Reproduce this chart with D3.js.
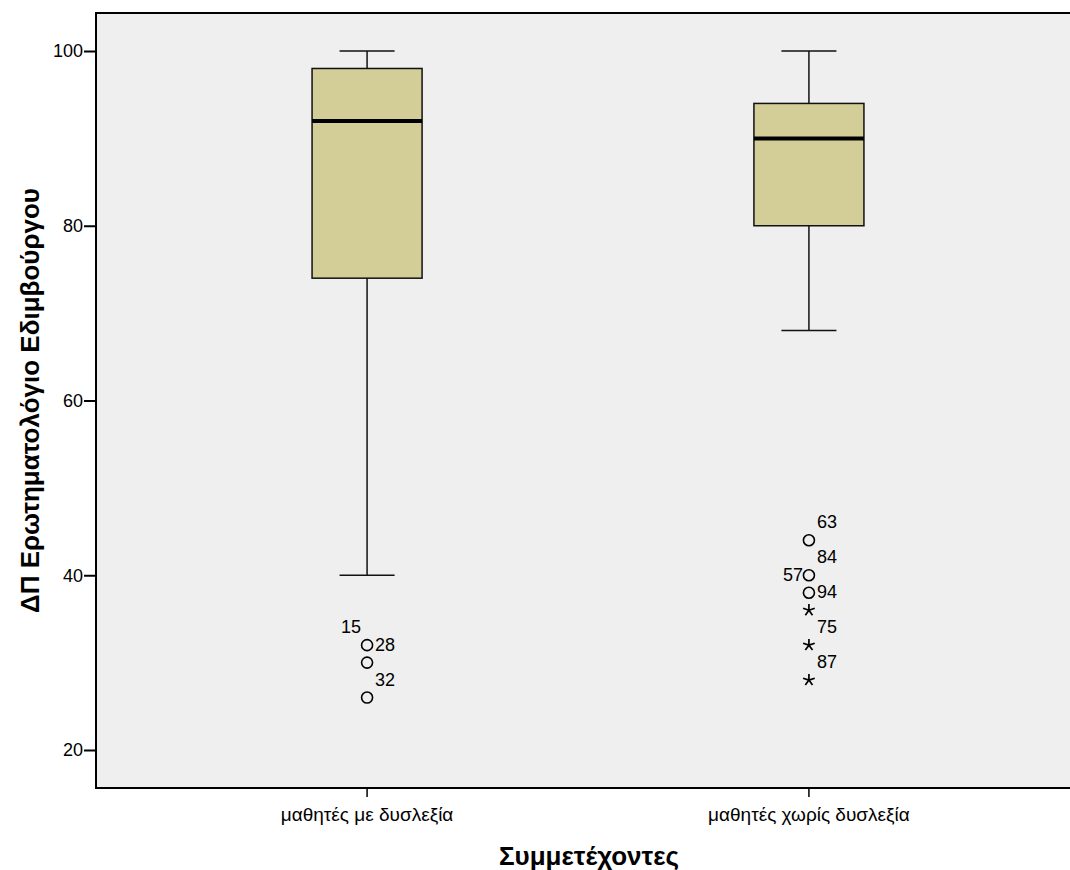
<!DOCTYPE html>
<html>
<head>
<meta charset="utf-8">
<script src="https://cdn.jsdelivr.net/npm/d3@7"></script>
<style>
  body { margin: 0; background: #fff; }
  svg { display: block; font-family: "Liberation Sans", Arial, sans-serif; }
</style>
</head>
<body>
<svg id="chart" width="1070" height="870"></svg>
<script>
// groups on the x axis
var categories = ["μαθητές με δυσλεξία", "μαθητές χωρίς δυσλεξία"];
// five number summaries (whisker low, Q1, median, Q3, whisker high)
var whiskerLow = [40, 68];
var q1 = [74, 80];
var median = [92, 90];
var q3 = [98, 94];
var whiskerHigh = [100, 100];

// outliers: group index, value, kind (o = circle, * = extreme)
var outlierGroup = [0, 0, 0, 1, 1, 1, 1, 1, 1];
var outlierValue = [32, 30, 26, 44, 40, 38, 36, 32, 28];
var outlierKind = ["o", "o", "o", "o", "o", "o", "*", "*", "*"];

// case labels: group, value of the point they belong to, id
var labelGroup = [0, 0, 0, 1, 1, 1, 1, 1, 1];
var labelValue = [32, 30, 26, 44, 40, 40, 36, 32, 28];
var labelText = ["15", "28", "32", "63", "84", "57", "94", "75", "87"];
var labelSide = ["nw", "ne", "ne", "ne", "ne", "w", "ne", "ne", "ne"];

var yTicks = [20, 40, 60, 80, 100];

var svg = d3.select("#chart");
var margin = {left: 96, top: 13, right: 0, bottom: 82};
var width = 1070, height = 870;

var y = d3.scaleLinear()
    .domain([15.65, 104.35])
    .range([height - margin.bottom, margin.top]);

// band range runs a bit past the visible frame (SPSS clips the right edge)
var x = d3.scaleBand()
    .domain(categories)
    .range([margin.left, 1080])
    .paddingInner(0.751)
    .paddingOuter(0.489);

// plot background
svg.append("rect")
    .attr("x", margin.left).attr("y", margin.top)
    .attr("width", width - margin.left)
    .attr("height", height - margin.bottom - margin.top)
    .attr("fill", "#efefef");

svg.append("path")
    .attr("d", "M" + width + "," + margin.top + "H" + margin.left + "V" + (height - margin.bottom) + "H" + width)
    .attr("fill", "none").attr("stroke", "#000").attr("stroke-width", 2);

// y axis
var yAxis = d3.axisLeft(y).tickValues(yTicks).tickSize(12).tickSizeOuter(0);
var gy = svg.append("g").attr("transform", "translate(" + margin.left + ",0)").call(yAxis);
gy.select(".domain").remove();
gy.selectAll(".tick line").attr("stroke-width", 2);
gy.selectAll(".tick text").attr("font-size", 18).attr("fill", "#000")
    .attr("font-family", "Liberation Sans, Arial, sans-serif").attr("x", -13);

// x axis
var xAxis = d3.axisBottom(x).tickSize(9).tickSizeOuter(0);
var gx = svg.append("g").attr("transform", "translate(0," + (height - margin.bottom) + ")").call(xAxis);
gx.select(".domain").remove();
gx.selectAll(".tick line").attr("stroke-width", 1.5);
gx.selectAll(".tick text").attr("font-size", 19).attr("fill", "#000")
    .attr("font-family", "Liberation Sans, Arial, sans-serif").attr("y", 20);

// boxes
var bw = x.bandwidth();
var boxes = svg.append("g").selectAll("g").data(categories).join("g")
    .attr("transform", function(d) { return "translate(" + x(d) + ",0)"; });

boxes.append("line")
    .attr("x1", bw / 2).attr("x2", bw / 2)
    .attr("y1", function(d, i) { return y(whiskerLow[i]); })
    .attr("y2", function(d, i) { return y(whiskerHigh[i]); })
    .attr("stroke", "#111").attr("stroke-width", 1.5);

boxes.selectAll(".cap").data(function(d, i) { return [whiskerLow[i], whiskerHigh[i]]; }).join("line")
    .attr("class", "cap")
    .attr("x1", bw / 4).attr("x2", bw * 3 / 4)
    .attr("y1", function(v) { return y(v); }).attr("y2", function(v) { return y(v); })
    .attr("stroke", "#111").attr("stroke-width", 1.5);

boxes.append("rect")
    .attr("x", 0).attr("width", bw)
    .attr("y", function(d, i) { return y(q3[i]); })
    .attr("height", function(d, i) { return y(q1[i]) - y(q3[i]); })
    .attr("fill", "#d3ce98").attr("stroke", "#111").attr("stroke-width", 1.5);

boxes.append("line")
    .attr("x1", 0).attr("x2", bw)
    .attr("y1", function(d, i) { return y(median[i]); })
    .attr("y2", function(d, i) { return y(median[i]); })
    .attr("stroke", "#000").attr("stroke-width", 4);

// outliers
var cx = function(g) { return x(categories[g]) + bw / 2; };
var pts = d3.range(outlierValue.length);
svg.append("g").selectAll("circle").data(pts.filter(function(i) { return outlierKind[i] === "o"; })).join("circle")
    .attr("cx", function(i) { return cx(outlierGroup[i]); })
    .attr("cy", function(i) { return y(outlierValue[i]); })
    .attr("r", 5.5).attr("fill", "none").attr("stroke", "#000").attr("stroke-width", 1.6);

// five-armed asterisk for extreme values
var asterisk = {
  draw: function(ctx, size) {
    var r = Math.sqrt(size) / 2;
    for (var k = 0; k < 5; k++) {
      var a = Math.PI / 2 + k * 2 * Math.PI / 5;
      ctx.moveTo(0, 0); ctx.lineTo(r * Math.cos(a), -r * Math.sin(a));
    }
  }
};
svg.append("g").selectAll("path").data(pts.filter(function(i) { return outlierKind[i] === "*"; })).join("path")
    .attr("transform", function(i) { return "translate(" + cx(outlierGroup[i]) + "," + y(outlierValue[i]) + ")"; })
    .attr("d", d3.symbol().type(asterisk).size(150))
    .attr("fill", "none").attr("stroke", "#000").attr("stroke-width", 1.7);

// case labels
var off = {ne: [8, -12, "start"], nw: [-6, -12, "end"], w: [-6, 6, "end"]};
svg.append("g").selectAll("text").data(d3.range(labelText.length)).join("text")
    .attr("x", function(i) { return cx(labelGroup[i]) + off[labelSide[i]][0]; })
    .attr("y", function(i) { return y(labelValue[i]) + off[labelSide[i]][1]; })
    .attr("text-anchor", function(i) { return off[labelSide[i]][2]; })
    .attr("font-size", 18)
    .text(function(i) { return labelText[i]; });

// axis titles
svg.append("text")
    .attr("x", 589).attr("y", 865)
    .attr("text-anchor", "middle").attr("font-size", 26).attr("font-weight", "bold")
    .text("Συμμετέχοντες");

svg.append("text")
    .attr("transform", "translate(39," + ((margin.top + height - margin.bottom) / 2) + ") rotate(-90)")
    .attr("text-anchor", "middle").attr("font-size", 26).attr("font-weight", "bold")
    .text("ΔΠ Ερωτηματολόγιο Εδιμβούργου");
</script>
</body>
</html>
